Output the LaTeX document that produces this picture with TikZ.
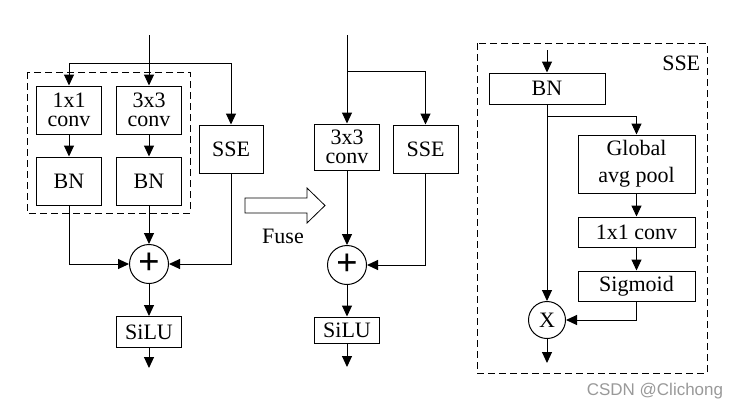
\documentclass[tikz,border=0pt]{standalone}
\usepackage{fontspec}
\setmainfont{Liberation Serif}
\newfontfamily\markfont{Liberation Sans}
\usetikzlibrary{arrows.meta}

\begin{document}
\begin{tikzpicture}[x=1pt, y=-1pt, line width=1pt,
		>={Triangle[length=11pt,width=10pt]},
		box/.style={draw, inner sep=0pt, minimum width=65pt, minimum height=48pt,
			align=center, font=\fontsize{22}{19}\selectfont},
		sum/.style={draw, circle, inner sep=0pt, minimum size=39pt},
		frame/.style={dash pattern=on 7pt off 4pt}]
	\useasboundingbox (0,0) rectangle (746,408);

	% original block
	\draw[frame] (27,72) rectangle (190,213);
	\node[box] (conva) at (69,110) {1x1\\conv};
	\node[box] (convb) at (149,110) {3x3\\conv};
	\node[box] (bna) at (69,181) {BN};
	\node[box] (bnb) at (149,181) {BN};
	\node[box, minimum width=64pt] (ssea) at (231,149) {SSE};
	\node[sum, font=\fontsize{38}{38}\selectfont] (adda) at (149,264) {\textbf{+}};
	\node[box, minimum height=31pt] (silua) at (149,332) {SiLU};
	\coordinate (ina) at (149,35);
	\coordinate (spa) at (149,63);
	\coordinate (outa) at (149,368);
	\draw[->] (ina) -- (convb);
	\draw[->] (spa) -| (conva);
	\draw[->] (spa) -| (ssea);
	\draw[->] (conva) -- (bna);
	\draw[->] (convb) -- (bnb);
	\draw[->] (bna) |- (adda);
	\draw[->] (bnb) -- (adda);
	\draw[->] (ssea) |- (adda);
	\draw[->] (adda) -- (silua);
	\draw[->] (silua) -- (outa);

	% fuse arrow
	\draw[line width=0.8pt] (245,198) -- (307,198) -- (307,188) -- (325,205.5)
		-- (307,223) -- (307,213) -- (245,213) -- cycle;
	\node[font=\fontsize{22}{24}\selectfont] (fuse) at (283,236) {Fuse};

	% fused block
	\node[box, minimum height=46pt] (convc) at (347,147) {3x3\\conv};
	\node[box] (sseb) at (425.5,149) {SSE};
	\node[sum, font=\fontsize{38}{38}\selectfont] (addb) at (347,265) {\textbf{+}};
	\node[box, minimum height=26pt] (silub) at (347,330) {SiLU};
	\coordinate (inb) at (347,35);
	\coordinate (spb) at (347,71);
	\coordinate (outb) at (347,367);
	\draw[->] (inb) -- (convc);
	\draw[->] (spb) -| (sseb);
	\draw[->] (convc) -- (addb);
	\draw[->] (sseb) |- (addb);
	\draw[->] (addb) -- (silub);
	\draw[->] (silub) -- (outb);

	% SSE detail
	\draw[frame] (477,43) rectangle (707,373);
	\node[anchor=east, font=\fontsize{22}{24}\selectfont] (ssetag) at (704,63) {SSE};
	\node[box, minimum width=116pt, minimum height=31pt] (bnc) at (547,88.5) {BN};
	\node[box, minimum width=117pt, minimum height=58pt,
		font=\fontsize{22}{27}\selectfont] (gap) at (636.5,164) {Global\\avg pool};
	\node[box, minimum width=117pt, minimum height=30pt] (fc) at (636.5,232) {1x1 conv};
	\node[box, minimum width=117pt, minimum height=30pt] (sig) at (636.5,286) {Sigmoid};
	\node[sum, minimum size=37pt, font=\fontsize{22}{24}\selectfont] (mul) at (547,320) {X};
	\coordinate (inc) at (547,50);
	\coordinate (spc) at (547,116);
	\coordinate (outc) at (547,363);
	\draw[->] (inc) -- (bnc);
	\draw[->] (bnc) -- (mul);
	\draw[->] (spc) -| (gap);
	\draw[->] (gap) -- (fc);
	\draw[->] (fc) -- (sig);
	\draw[->] (sig) |- (mul);
	\draw[->] (mul) -- (outc);

	\node[anchor=base west, text=black!40, font=\markfont\fontsize{17}{20}\selectfont]
		(mark) at (583,395) {CSDN @Clichong};
\end{tikzpicture}
\end{document}
